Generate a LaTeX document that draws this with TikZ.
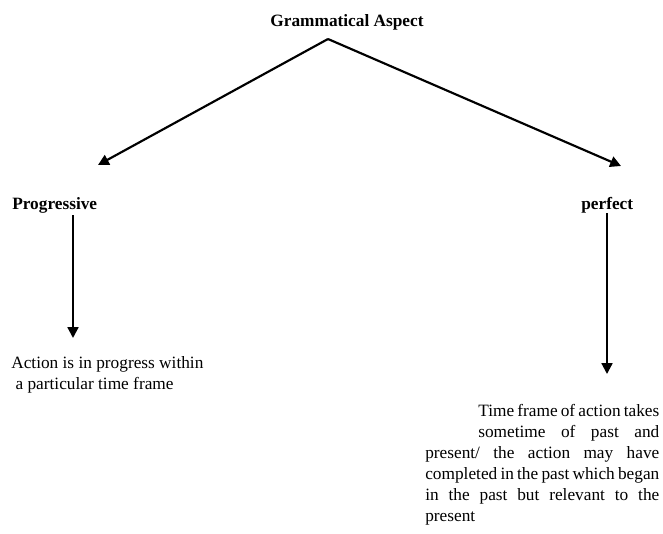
\documentclass[tikz,border=0pt]{standalone}
\usepackage{fontspec}
\setmainfont{Liberation Serif}
\usetikzlibrary{arrows.meta,positioning}

\begin{document}
\begin{tikzpicture}[x=0.694pt,y=-0.694pt,
	head/.style={inner sep=0pt,font=\fontsize{12}{14.6}\selectfont\bfseries},
	txt/.style={inner sep=0pt,font=\fontsize{12}{14.6}\selectfont},
	arr/.style={line width=1.5pt,-{Triangle[width=7.5pt,length=7.5pt]}}]
	\useasboundingbox (0,0) rectangle (663,533);
	\node[head] (gram) at (347,22) {Grammatical Aspect};
	\coordinate (apex) at (328,39);
	\node[head,anchor=west] (prog) at (12,205) {Progressive};
	\node[head,anchor=west] (perf) at (581,205) {perfect};
	\coordinate (progin) at (98,165);
	\coordinate (perfin) at (621,166);
	\coordinate (progtop) at (73,215);
	\coordinate (progbot) at (73,338);
	\coordinate (perftop) at (607,213);
	\coordinate (perfbot) at (607,374);
	\node[txt,anchor=north west,align=left] (progdesc) at (11,356) {Action is in progress within\\\hspace*{3pt}a particular time frame};
	\node[txt,anchor=north west,text width=162.4pt,align=justify] (perfdesc) at (425,404) {\hspace*{36.8pt}Time frame of action takes\linebreak\hspace*{36.8pt}sometime of past and\linebreak present/ the action may have\linebreak completed in the past which began\linebreak in the past but relevant to the\linebreak present};
	\draw[arr] (apex)--(progin);
	\draw[arr] (apex)--(perfin);
	\draw[arr] (progtop)--(progbot);
	\draw[arr] (perftop)--(perfbot);
\end{tikzpicture}
\end{document}
